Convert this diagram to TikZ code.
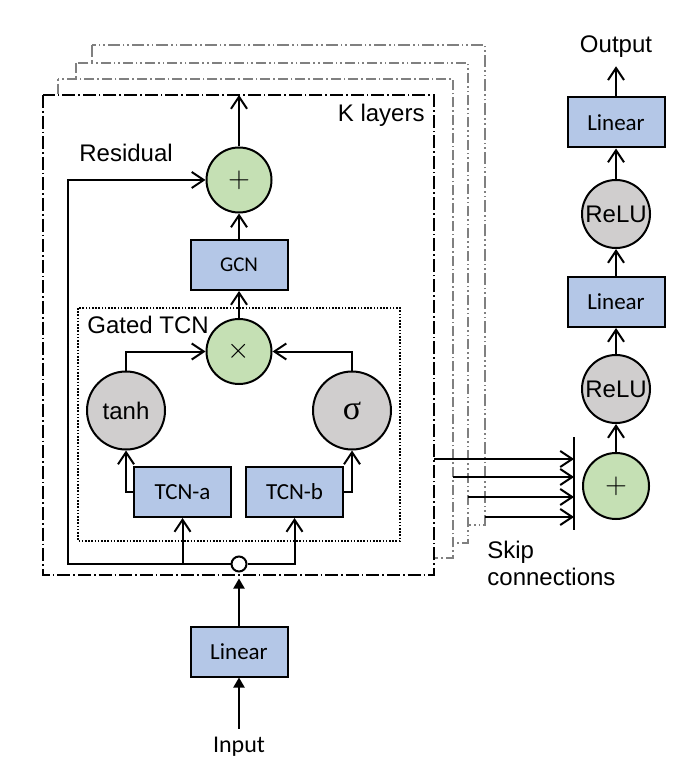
\documentclass[tikz,border=0pt]{standalone}
\usepackage{fontspec}
\setmainfont{Liberation Sans}
\newfontfamily\carlito{Carlito}
\newfontfamily\timesf{Liberation Serif}
\usepackage{tikz}
\usetikzlibrary{arrows.meta,%
                shapes,positioning}
\definecolor{boxblue}{RGB}{180,199,231}
\definecolor{opgreen}{RGB}{197,224,180}
\definecolor{actgray}{RGB}{208,206,206}
\tikzset{
  block/.style={draw, line width=1pt, fill=boxblue, minimum width=48.5pt,
    minimum height=25pt, inner sep=0pt, font=\carlito\fontsize{11.5}{12}\selectfont},
  opnode/.style={circle, draw, line width=1pt, fill=opgreen, minimum size=32.5pt,
    inner sep=0pt, font=\fontsize{14}{14}\selectfont},
  actnode/.style={circle, draw, line width=1pt, fill=actgray, minimum size=39pt,
    inner sep=0pt, font=\fontsize{12}{12}\selectfont},
  txt/.style={inner sep=0pt, font=\fontsize{12}{13.5}\selectfont},
  flow/.style={line width=1pt, -{Straight Barb[length=6pt,width=8pt,line width=1pt]}},
  inflow/.style={line width=1pt, -{Triangle[length=5pt,width=5.5pt]}},
  layerbox/.style={draw, line width=1pt, fill=white, dash pattern=on 6.5pt off 1.5pt on 0.8pt off 1.5pt},
  backA/.style={draw=gray, line width=1pt, fill=white, dash pattern=on 0.8pt off 1.5pt on 5pt off 1.5pt},
  backB/.style={draw=gray, line width=1pt, fill=white, dash pattern=on 5pt off 1.5pt on 0.8pt off 1.5pt on 0.8pt off 1.5pt},
  backC/.style={draw=gray, line width=1pt, fill=white, dash pattern=on 6pt off 1.5pt on 0.8pt off 1.5pt on 0.8pt off 1.5pt},
  gatebox/.style={draw, line width=0.8pt, dash pattern=on 0.8pt off 0.8pt}
}

\begin{document}
\begin{tikzpicture}[x=0.5pt, y=-0.5pt]
\useasboundingbox (0,0) rectangle (678,774);
% K stacked layers
\draw[backC] (92,45) rectangle (485,525);
\draw[backB] (76,63) rectangle (468,543);
\draw[backA] (58,79) rectangle (453,558);
\draw[layerbox] (43,95) rectangle (434,575);
\draw[gatebox] (78,308) rectangle (400,541);
\node[txt, anchor=east] (Klayers) at (425,115) {K layers};
\node[txt, anchor=west] (Residual) at (79,153) {Residual};
\node[txt, anchor=west] (Gated) at (87,325) {Gated TCN};
\node[opnode] (plus) at (239,180) {$+$};
\node[block, font=\carlito\fontsize{10.5}{12}\selectfont] (GCN) at (239,265) {GCN};
\node[opnode] (mult) at (239,351.5) {$\times$};
\node[actnode] (tanh) at (126,410.5) {tanh};
\node[actnode, font=\timesf\fontsize{17}{17}\selectfont] (sigma) at (352,410.5) {σ};
\node[block] (TCNa) at (182.5,492) {TCN-a};
\node[block] (TCNb) at (294.5,492) {TCN-b};
\node[circle, draw, line width=1pt, fill=white, minimum size=7.5pt, inner sep=0pt] (split) at (239,564) {};
\node[block] (Linear) at (239,651.5) {Linear};
\node[txt, inner sep=4pt, font=\carlito\fontsize{12}{13.5}\selectfont] (Input) at (239,747) {Input};
\coordinate (top) at (239,95);
\coordinate (res) at (68,564);
\draw[flow] (split) -- (res) |- (plus);
\draw[flow] (split) -| (TCNa);
\draw[flow] (split) -| (TCNb);
\draw[flow] (TCNa) -| (tanh);
\draw[flow] (TCNb) -| (sigma);
\draw[flow] (tanh) |- (mult);
\draw[flow] (sigma) |- (mult);
\draw[flow] (mult) -- (GCN);
\draw[flow] (GCN) -- (plus);
\draw[flow] (plus) -- (top);
\draw[inflow] (Input) -- (Linear);
\draw[inflow, shorten >=3pt] (Linear) -- (split);
% output head
\node[txt, inner sep=4pt] (Output) at (616,47) {Output};
\node[block] (Lin1) at (616,122.5) {Linear};
\node[actnode, minimum size=34pt] (ReLU1) at (616,214) {ReLU};
\node[block] (Lin2) at (616,302) {Linear};
\node[actnode, minimum size=34pt] (ReLU2) at (616,389) {ReLU};
\node[opnode, minimum size=33pt] (plus2) at (616,486) {$+$};
\draw[flow] (plus2) -- (ReLU2);
\draw[flow] (ReLU2) -- (Lin2);
\draw[flow] (Lin2) -- (ReLU1);
\draw[flow] (ReLU1) -- (Lin1);
\draw[flow] (Lin1) -- (Output);
% skip connections
\coordinate (bar) at (574,437);
\coordinate (barend) at (574,530);
\draw[line width=1pt] (bar) -- (barend);
\coordinate (s1) at (434,459);
\coordinate (s2) at (453,477);
\coordinate (s3) at (468,497);
\coordinate (s4) at (485,517);
\draw[flow] (s1) -- (s1 -| bar);
\draw[flow] (s2) -- (s2 -| bar);
\draw[flow] (s3) -- (s3 -| bar);
\draw[flow] (s4) -- (s4 -| bar);
\node[txt, anchor=west, align=left] (Skip) at (487,563) {Skip\\connections};
\end{tikzpicture}
\end{document}
